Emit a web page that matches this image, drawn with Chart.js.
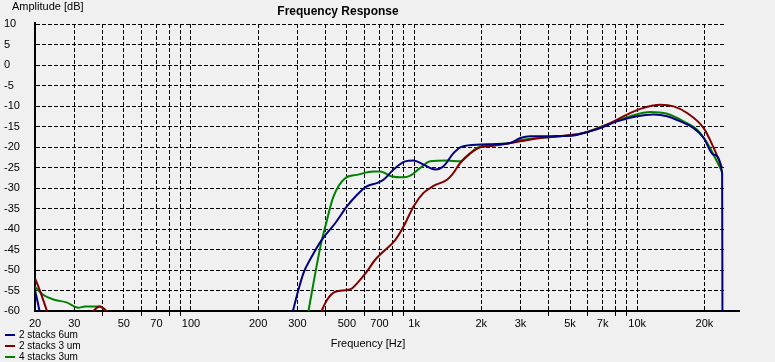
<!DOCTYPE html>
<html>
<head>
<meta charset="utf-8">
<script src="https://cdn.jsdelivr.net/npm/chart.js@4.4.1/dist/chart.umd.min.js"></script>
<style>
  body { margin: 0; background: #f0f0f0; }
  #wrap { width: 775px; height: 362px; }
</style>
</head>
<body>
<div id="wrap"><canvas id="grafico" width="775" height="362"></canvas></div>
<script>
// ticks
const xGridFreqs = [20, 30, 40, 50, 60, 70, 80, 90, 100, 200, 300, 400, 500, 600, 700, 800, 900,
  1000, 2000, 3000, 4000, 5000, 6000, 7000, 8000, 9000, 10000, 20000];
const xLabelFreqs = [20, 30, 50, 70, 100, 200, 300, 500, 700, 1000, 2000, 3000, 5000, 7000, 10000, 20000];
const xLabelText = ["20", "30", "50", "70", "100", "200", "300", "500", "700", "1k", "2k", "3k", "5k", "7k", "10k", "20k"];
const yTicks = [10, 5, 0, -5, -10, -15, -20, -25, -30, -35, -40, -45, -50, -55, -60];

const seriesNames = ["2 stacks 6um", "2 stacks 3 um", "4 stacks 3um"];
const seriesColors = ["#000080", "#800000", "#008000"];

// 2 stacks 6um
const blueFreq = [20, 20.5, 21.1, 100, 284, 303, 319, 348, 385, 443, 500, 554, 614, 681, 729, 809, 912, 994,
  1102, 1244, 1355, 1502, 1638, 1979, 2270, 2698, 2992, 3317, 3678, 4400, 5186, 5750, 6836, 8120, 9980,
  11852, 13608, 15612, 17908, 19860, 22020, 24020, 24100];
const blueDb = [-54.9, -57.5, -60.8, null, -60.8, -54.9, -50.8, -46.7, -42.7, -38.6, -34.5, -31.7, -29.6, -28.8, -28.0, -25.5, -23.5, -23.3,
  -24.3, -25.5, -24.7, -21.5, -19.9, -19.4, -19.3, -19.0, -17.8, -17.4, -17.4, -17.3, -17.2, -16.6, -15.4, -13.75, -12.5,
  -12.1, -12.5, -13.75, -15.4, -17.8, -21.9, -26.4, -61];

// 2 stacks 3 um
const redFreq = [20, 21, 22.9, 30, 35.3, 39, 43.3, 100, 379, 407, 443, 500, 526, 573, 614, 669, 729, 823, 897, 994,
  1102, 1222, 1404, 1478, 1610, 1786, 1979, 2270, 2992, 3678, 4500, 5750, 7324, 9004, 10330, 12698, 14568,
  16732, 19860, 22020, 24020];
const redDb = [-52.0, -54.9, -60.8, null, -60.8, -58.9, -60.8, null, -60.8, -57.3, -55.3, -54.9, -54.5, -52.4, -50.4, -47.5, -45.5, -42.7, -39.4, -34.5,
  -31.2, -29.5, -28.0, -26.8, -23.9, -21.5, -20.1, -19.7, -18.6, -17.8, -17.4, -16.6, -14.55, -12.1, -10.7, -9.7, -10.1,
  -11.7, -15.4, -20.2, -25.1];

// 4 stacks 3um
const greenFreq = [20, 21.8, 24.6, 27.7, 31.3, 33.5, 39, 43.3, 100, 334, 383, 400, 435, 491, 554, 658, 705, 796, 897, 961,
  1065, 1181, 1404, 1610, 1726, 1914, 2270, 2700, 3000, 3678, 4500, 5750, 7324, 9312, 11452, 13608, 16154,
  18552, 20560, 24020];
const greenDb = [-54.1, -56.1, -57.3, -57.9, -59.2, -58.9, -58.9, -60.8, null, -60.8, -43.5, -39.4, -32.1, -27.6, -26.8, -26.0, -26.0, -27.2, -27.4, -27.0,
  -25.1, -23.5, -23.3, -23.5, -22.3, -20.2, -19.4, -19.0, -18.3, -17.8, -17.4, -16.6, -14.5, -12.5, -11.45, -11.9, -13.75,
  -15.8, -19.0, -26.0];

function puntos(freqs, dbs) {
  return freqs.map((f, i) => ({ x: f, y: dbs[i] }));
}

const fuente = "Liberation Sans, Arial, sans-serif";

// textos sueltos, leyenda y prolongacion del eje
const extras = {
  id: "extras",
  afterDraw(chart) {
    const ctx = chart.ctx;
    const area = chart.chartArea;
    ctx.save();

    ctx.strokeStyle = "#000";
    ctx.lineWidth = 2;
    ctx.beginPath();
    ctx.moveTo(area.right - 1, area.bottom);
    ctx.lineTo(740, area.bottom);
    ctx.moveTo(area.left, area.top);
    ctx.lineTo(area.left, 22);
    ctx.stroke();

    ctx.fillStyle = "#000";
    ctx.textBaseline = "middle";
    ctx.font = "11px " + fuente;
    ctx.textAlign = "left";
    ctx.fillText("Amplitude [dB]", 12, 7);
    ctx.textAlign = "center";
    ctx.fillText("Frequency [Hz]", 368, 344);
    ctx.font = "bold 12px " + fuente;
    ctx.fillText("Frequency Response", 338, 12);

    ctx.font = "10px " + fuente;
    ctx.textAlign = "left";
    chart.data.datasets.forEach((ds, i) => {
      const y = 335 + i * 11;
      ctx.strokeStyle = ds.borderColor;
      ctx.lineWidth = 2;
      ctx.beginPath();
      ctx.moveTo(5, y);
      ctx.lineTo(15, y);
      ctx.stroke();
      ctx.fillText(ds.label, 19, y);
    });
    ctx.restore();
  }
};

const datos = [puntos(blueFreq, blueDb), puntos(redFreq, redDb), puntos(greenFreq, greenDb)];

new Chart(document.getElementById("grafico"), {
  type: "line",
  data: {
    datasets: datos.map((d, i) => ({
      label: seriesNames[i],
      data: d,
      borderColor: seriesColors[i],
      borderWidth: 2,
      pointRadius: 0,
      fill: false,
      spanGaps: false,
      cubicInterpolationMode: "monotone",
      clip: 0
    }))
  },
  options: {
    responsive: false,
    animation: false,
    devicePixelRatio: 1,
    layout: { padding: { left: 4, top: 24, right: 49, bottom: 0 } },
    plugins: {
      legend: { display: false },
      title: { display: false },
      tooltip: { enabled: false }
    },
    scales: {
      x: {
        type: "logarithmic",
        min: 20,
        max: 25000,
        afterBuildTicks: s => { s.ticks = xGridFreqs.map(v => ({ value: v })); },
        afterFit: s => { s.height = 51; },
        border: { color: "#000", width: 2, dash: [4, 2] },
        grid: {
          color: "#000",
          lineWidth: 1,
          tickLength: 6,
          tickBorderDash: [4, 2],
          tickColor: c => xLabelFreqs.includes(c.tick.value) ? "rgba(0,0,0,0)" : "#000"
        },
        ticks: {
          autoSkip: false,
          maxRotation: 0,
          padding: 0,
          color: "#000",
          font: { family: fuente, size: 11 },
          callback: v => {
            const i = xLabelFreqs.indexOf(v);
            return i >= 0 ? xLabelText[i] : "";
          }
        }
      },
      y: {
        min: -60,
        max: 10,
        afterBuildTicks: s => { s.ticks = yTicks.map(v => ({ value: v })); },
        afterFit: s => { s.width = 31; },
        border: { color: "#000", width: 2, dash: [4, 2] },
        grid: {
          color: "#000",
          lineWidth: 1,
          drawTicks: false
        },
        ticks: {
          crossAlign: "far",
          color: "#000",
          font: { family: fuente, size: 11 }
        }
      }
    }
  },
  plugins: [extras]
});
</script>
</body>
</html>
